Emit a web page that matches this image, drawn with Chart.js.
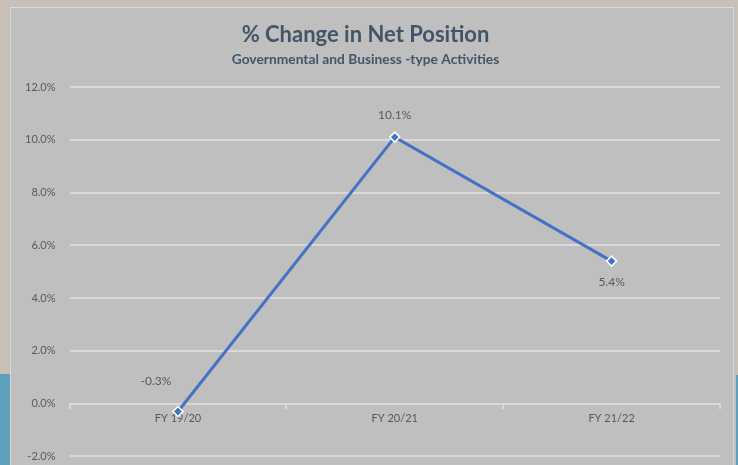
<!DOCTYPE html>
<html>
<head>
<meta charset="utf-8">
<script src="https://cdn.jsdelivr.net/npm/chart.js@4"></script>
<style>
  html, body { margin: 0; padding: 0; }
  body { width: 738px; height: 465px; background: #c8c0b7; position: relative; overflow: hidden; }
  #blueLeft { position: absolute; left: 0; top: 374px; width: 11px; height: 91px; background: #5e9fbc; }
  #blueRight { position: absolute; left: 736px; top: 375px; width: 2px; height: 90px; background: #5e9fbc; }
  #panel { position: absolute; left: 10px; top: 7px; width: 724px; height: 470px; background: #bfbfbf;
           border: 1px solid #d9d9d9; box-sizing: border-box; }
  /* the chart runs a bit past the bottom edge, as in the screenshot */
  #wrap { position: absolute; left: 0; top: 0; width: 738px; height: 477px; }
</style>
</head>
<body>
<div id="blueLeft"></div>
<div id="blueRight"></div>
<div id="panel"></div>
<div id="wrap"><canvas id="lineChart"></canvas></div>
<script>
const categories = ["FY 19/20", "FY 20/21", "FY 21/22"];
const netPositionChange = [-0.3, 10.1, 5.4];
const yTicks = [-2, 0, 2, 4, 6, 8, 10, 12];

const FONT = "Lato, 'Open Sans', sans-serif";
const labelSpots = ["above-left", "above", "below"];

// draws the value next to each point, like the excel data labels
const valueLabels = {
  id: "valueLabels",
  afterDatasetsDraw(chart) {
    const ctx = chart.ctx;
    const meta = chart.getDatasetMeta(0);
    ctx.save();
    ctx.font = "12px " + FONT;
    ctx.fillStyle = "#595959";
    ctx.textAlign = "center";
    ctx.textBaseline = "middle";
    meta.data.forEach((pt, i) => {
      const txt = netPositionChange[i].toFixed(1) + "%";
      let x = pt.x, y = pt.y;
      if (labelSpots[i] === "above") y -= 22;
      else if (labelSpots[i] === "below") y += 21;
      else { x -= 22; y -= 30; }
      ctx.fillText(txt, x, y);
    });
    ctx.restore();
  }
};

new Chart(document.getElementById("lineChart"), {
  type: "line",
  data: {
    labels: categories,
    datasets: [{
      data: netPositionChange,
      borderColor: "#4472c4",
      borderWidth: 3,
      pointStyle: "rectRot",
      pointRadius: 5,
      pointBackgroundColor: "#4472c4",
      pointBorderColor: "#ffffff",
      pointBorderWidth: 1.5,
      tension: 0
    }]
  },
  options: {
    responsive: true,
    maintainAspectRatio: false,
    animation: false,
    layout: { padding: { left: 11, right: 18, top: 22, bottom: 0 } },
    plugins: {
      legend: { display: false },
      tooltip: { enabled: false },
      title: {
        display: true,
        text: "% Change in Net Position",
        color: "#44546a",
        font: { family: FONT, size: 22, weight: "bold" },
        padding: { top: 0, bottom: 3 }
      },
      subtitle: {
        display: true,
        text: "Governmental and Business -type Activities",
        color: "#44546a",
        font: { family: FONT, size: 13.8, weight: "bold" },
        padding: { top: 0, bottom: 19 }
      }
    },
    scales: {
      x: {
        position: { y: 0 },
        offset: true,
        grid: { offset: true, drawOnChartArea: false, drawTicks: true, tickLength: 4, color: "#d9d9d9", lineWidth: 2 },
        border: { color: "#d9d9d9", width: 2 },
        ticks: { color: "#595959", font: { family: FONT, size: 11 }, padding: 4 }
      },
      y: {
        min: -2,
        max: 12,
        afterBuildTicks(scale) { scale.ticks = yTicks.map(v => ({ value: v })); },
        grid: { color: "#d9d9d9", lineWidth: 2, drawTicks: false },
        border: { display: false },
        ticks: {
          color: "#595959",
          font: { family: FONT, size: 11 },
          padding: 14,
          callback: v => v.toFixed(1) + "%"
        }
      }
    }
  },
  plugins: [valueLabels]
});
</script>
</body>
</html>
